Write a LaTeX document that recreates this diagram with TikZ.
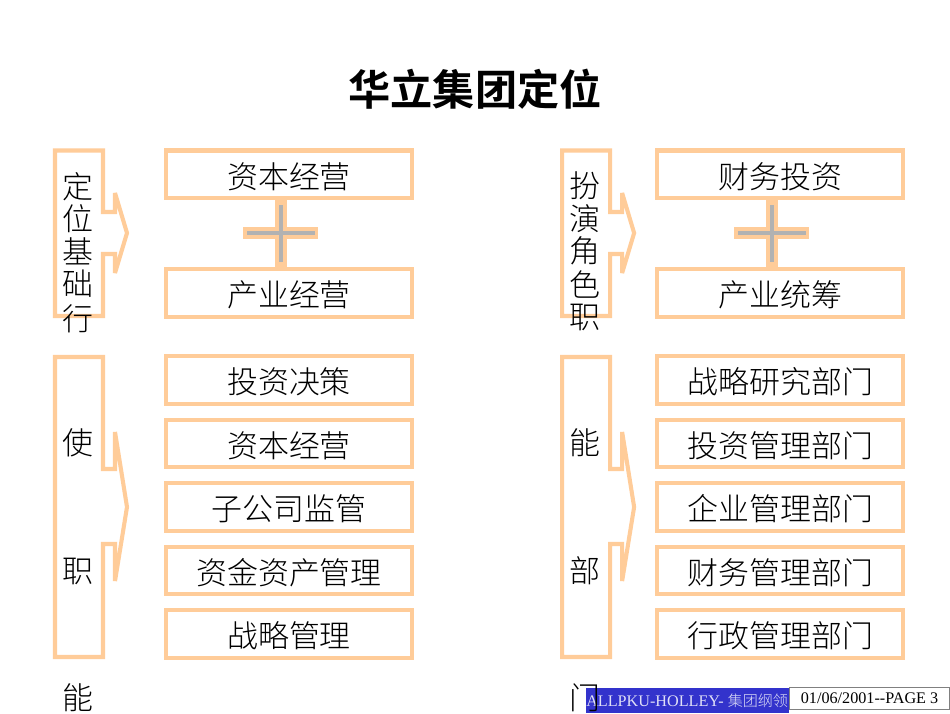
\documentclass[tikz,border=0pt]{standalone}
\usepackage{fontspec}
\setmainfont{Liberation Serif}
\newfontfamily\cjk{Noto Sans CJK SC Light}
\newfontfamily\cjkbold{Noto Sans CJK SC Bold}
\usetikzlibrary{positioning}
\definecolor{peach}{RGB}{255,204,153}
\definecolor{plusgray}{RGB}{178,178,178}
\definecolor{footblue}{RGB}{51,51,204}
\tikzset{
  panel/.style={draw=peach,line width=2.9pt,line join=miter,miter limit=3},
  itembox/.style={draw=peach,line width=2.9pt,minimum width=6.15cm,minimum height=1.19cm,
                  inner sep=0pt,text height=20.4pt,text depth=.7pt,
                  font=\cjk\fontsize{22}{22}\selectfont,text=black},
  sidechar/.style={inner sep=0pt,font=\cjk\fontsize{22}{22}\selectfont,text=black},
  footlabel/.style={inner sep=0pt,font=\fontsize{11.5}{13}\selectfont},
  plusback/.style={peach,line width=8.5pt},
  plusfront/.style={plusgray,line width=2.8pt}
}

\begin{document}
\begin{tikzpicture}[x=0.025cm,y=-0.025cm]
\useasboundingbox (0,0) rectangle (950,713);
\fill[white] (0,0) rectangle (950,713);

\node[inner sep=0pt,font=\cjkbold\fontsize{30}{30}\selectfont] (title) at (475,89) {华立集团定位};

% footer first, the side text runs over it
\fill[footblue] (586,688) rectangle (789,713);
\node[footlabel,text=white!85!footblue,anchor=west] (footname) at (586,701)
    {ALLPKU-HOLLEY- {\cjk\fontsize{10.7}{13}\selectfont 集团纲领}};
\node[footlabel,draw=gray,line width=.7pt,fill=white,minimum width=4cm,minimum height=.55cm,anchor=north west]
    (footpage) at (789,687) {01/06/2001-{}-PAGE 3};

% left column
\draw[panel] (55,150.5) -- (103,150.5) -- (103,212) -- (115,212) -- (115,193) -- (127,233) --
             (115,273) -- (115,254) -- (103,254) -- (103,316) -- (55,316) -- cycle;
\draw[panel] (55,357) -- (103,357) -- (103,469) -- (115,469) -- (115,432) -- (127,507) --
             (115,581) -- (115,544) -- (103,544) -- (103,657) -- (55,657) -- cycle;

\foreach \ch/\ypos/\nm in {定/187/a,位/219/b,基/251/c,础/284/d,行/319/e,使/443/f,职/571/g,能/698/h}
  \node[sidechar] (left\nm) at (78,\ypos) {\ch};

\node[itembox] (capital) at (289,174.3) {资本经营};
\node[itembox] (industry) at (289,293) {产业经营};
\draw[plusback] (capital.south) ++(-8,0) coordinate (plustop) -- (plustop |- industry.north);
\draw[plusback] (243,233) -- (318,233);
\draw[plusfront,shorten >=3.5pt,shorten <=3.5pt] (plustop) -- (plustop |- industry.north);
\draw[plusfront] (247,233) -- (315,233);

\node[itembox] (decide) at (289,380) {投资决策};
\node[itembox] (operate) at (289,443.5) {资本经营};
\node[itembox] (monitor) at (289,507) {子公司监管};
\node[itembox] (assets) at (289,570.5) {资金资产管理};
\node[itembox] (strategy) at (289,634) {战略管理};

% right column
\begin{scope}[xshift=12.675cm]
\draw[panel] (55,150.5) -- (103,150.5) -- (103,212) -- (115,212) -- (115,193) -- (127,233) --
             (115,273) -- (115,254) -- (103,254) -- (103,316) -- (55,316) -- cycle;
\draw[panel] (55,357) -- (103,357) -- (103,469) -- (115,469) -- (115,432) -- (127,507) --
             (115,581) -- (115,544) -- (103,544) -- (103,657) -- (55,657) -- cycle;

\foreach \ch/\ypos/\nm in {扮/186/a,演/219/b,角/251/c,色/284/d,职/317/e,能/443/f,部/571/g,门/698/h}
  \node[sidechar] (right\nm) at (78,\ypos) {\ch};
\end{scope}

\begin{scope}[xshift=12.275cm]
\node[itembox] (finance) at (289,174.3) {财务投资};
\node[itembox] (overall) at (289,293) {产业统筹};
\draw[plusback] (finance.south) ++(-8,0) coordinate (plusright) -- (plusright |- overall.north);
\draw[plusback] (243,233) -- (318,233);
\draw[plusfront,shorten >=3.5pt,shorten <=3.5pt] (plusright) -- (plusright |- overall.north);
\draw[plusfront] (247,233) -- (315,233);

\node[itembox] (research) at (289,380) {战略研究部门};
\node[itembox] (invest) at (289,443.5) {投资管理部门};
\node[itembox] (enterprise) at (289,507) {企业管理部门};
\node[itembox] (financedept) at (289,570.5) {财务管理部门};
\node[itembox] (admin) at (289,634) {行政管理部门};
\end{scope}
\end{tikzpicture}
\end{document}
